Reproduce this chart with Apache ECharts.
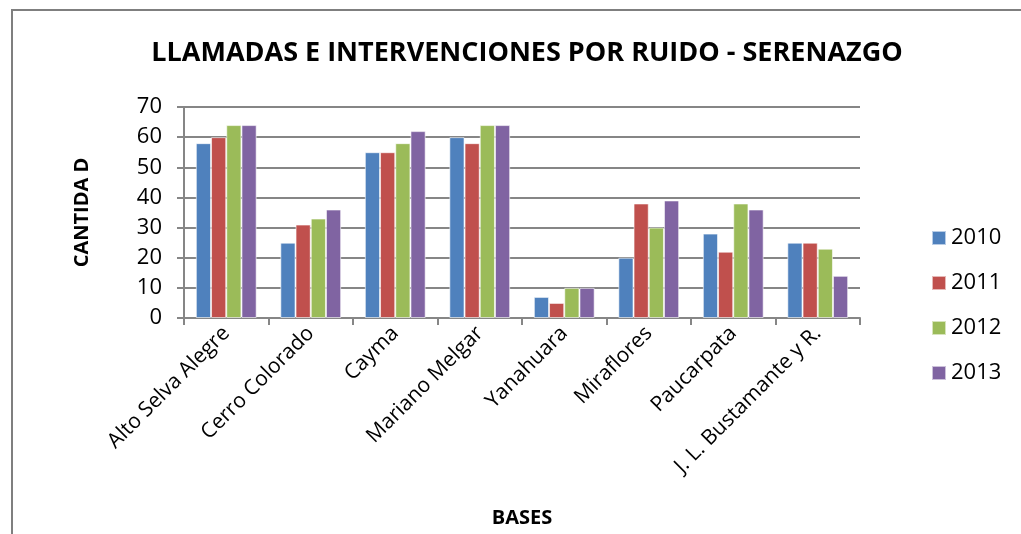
<!DOCTYPE html>
<html>
<head>
<meta charset="utf-8">
<script src="https://cdn.jsdelivr.net/npm/echarts@6/dist/echarts.min.js"></script>
<style>
  html, body { margin: 0; padding: 0; background: #fff; }
  #chart { width: 1021px; height: 534px; }
</style>
</head>
<body>
<div id="chart"></div>
<script>
// categorias y valores
const bases = ['Alto Selva Alegre', 'Cerro Colorado', 'Cayma', 'Mariano Melgar',
  'Yanahuara', 'Miraflores', 'Paucarpata', 'J. L. Bustamante y R.']
const years = ['2010', '2011', '2012', '2013']
const v2010 = [58, 25, 55, 60, 7, 20, 28, 25]
const v2011 = [60, 31, 55, 58, 5, 38, 22, 25]
const v2012 = [64, 33, 58, 64, 10, 30, 38, 23]
const v2013 = [64, 36, 62, 64, 10, 39, 36, 14]
const colors = ['#4F81BD', '#C0504D', '#9BBB59', '#8064A2']

const boldFam = '"Open Sans", sans-serif'
const plainFam = '"Open Sans", sans-serif'
const chart = echarts.init(document.getElementById('chart'))

const allValues = [v2010, v2011, v2012, v2013]

chart.setOption({
  animation: false,
  textStyle: { fontFamily: plainFam, color: '#000' },
  title: {
    text: 'LLAMADAS E INTERVENCIONES POR RUIDO - SERENAZGO',
    left: 522, top: 35, textAlign: 'center',
    textStyle: { fontSize: 27, fontWeight: 'bold', color: '#000', fontFamily: boldFam }
  },
  graphic: [{
    type: 'rect',
    shape: { x: 12, y: 10, width: 1040, height: 560 },
    style: { fill: 'none', stroke: '#7f7f7f', lineWidth: 2 }
  }],
  legend: {
    orient: 'vertical',
    left: 926, top: 222,
    itemWidth: 14, itemHeight: 14, itemGap: 23,
    icon: 'rect',
    textStyle: { fontSize: 22, color: '#000', fontFamily: plainFam },
    data: years
  },
  grid: { left: 184, top: 107, right: 161, bottom: 216 },
  xAxis: {
    type: 'category',
    data: bases,
    name: 'BASES',
    nameLocation: 'middle',
    nameGap: 190,
    nameTextStyle: { fontSize: 20, fontWeight: 'bold', color: '#000', fontFamily: boldFam },
    axisLine: { lineStyle: { color: '#868686', width: 2 } },
    axisTick: { show: true, length: 7, lineStyle: { color: '#868686', width: 2 } },
    axisLabel: { rotate: 45, fontSize: 21, color: '#000', margin: 12, interval: 0,
      fontFamily: plainFam }
  },
  yAxis: {
    type: 'value',
    min: 0, max: 70, interval: 10,
    name: 'CANTIDA D',
    nameLocation: 'middle',
    nameGap: 92,
    nameRotate: 90,
    nameTextStyle: { fontSize: 20, fontWeight: 'bold', color: '#000', fontFamily: boldFam },
    axisLine: { show: true, lineStyle: { color: '#868686', width: 2 } },
    axisTick: { show: true, length: 7, lineStyle: { color: '#868686', width: 2 } },
    axisLabel: { fontSize: 22, color: '#000', margin: 22, fontFamily: plainFam },
    splitLine: { lineStyle: { color: '#868686', width: 2 } }
  },
  series: years.map((y, i) => ({
    name: y,
    type: 'bar',
    data: allValues[i],
    barGap: '0%',
    barCategoryGap: '28%',
    itemStyle: { color: colors[i], borderColor: 'rgba(255,255,255,0.6)', borderWidth: 1 }
  }))
})
</script>
</body>
</html>
